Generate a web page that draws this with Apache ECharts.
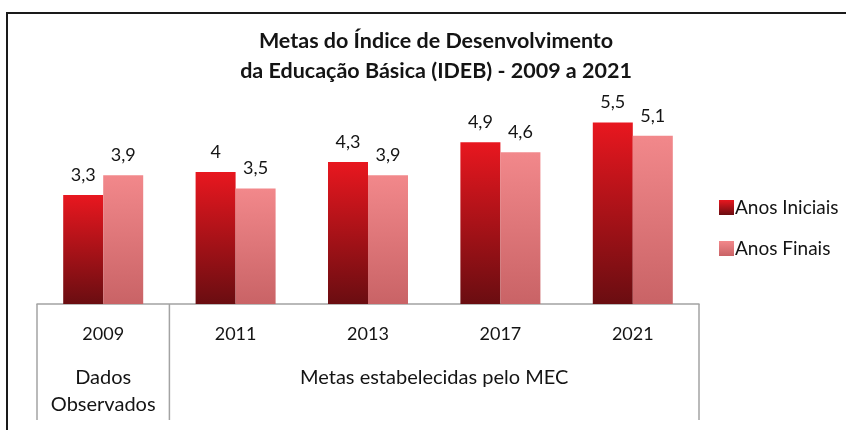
<!DOCTYPE html>
<html>
<head>
<meta charset="utf-8">
<script src="https://cdn.jsdelivr.net/npm/echarts@6/dist/echarts.min.js"></script>
<style>
  html, body { margin: 0; padding: 0; background: #fff; overflow: hidden; }
  #frame { position: absolute; left: 6px; top: 12px; width: 900px; height: 500px; border: 2px solid #1a1a1a; box-sizing: border-box; }
  #chart { position: absolute; left: 0; top: 0; width: 846px; height: 430px; }
</style>
</head>
<body>
<div id="frame"></div>
<div id="chart"></div>
<script>
const titleLines = ['Metas do Índice de Desenvolvimento', 'da Educação Básica (IDEB) - 2009 a 2021'];
const categories = ['2009', '2011', '2013', '2017', '2021'];
const anosIniciais = [3.3, 4, 4.3, 4.9, 5.5];
const anosFinais = [3.9, 3.5, 3.9, 4.6, 5.1];
const seriesNames = ['Anos Iniciais', 'Anos Finais'];
const groupLabels = ['Dados\nObservados', 'Metas estabelecidas pelo MEC'];
const groupFrom = [0, 1];
const groupTo = [0, 4];

const FONT = 'Lato';
const TEXT = '#141414';
const LINE = '#a3a3a3';

function grad(top, bottom) {
  return new echarts.graphic.LinearGradient(0, 0, 0, 1, [
    { offset: 0, color: top },
    { offset: 1, color: bottom }
  ]);
}
const fmt = p => String(p.value).replace('.', ',');

const chart = echarts.init(document.getElementById('chart'), null, { renderer: 'canvas' });
chart.setOption({
  animation: false,
  backgroundColor: 'transparent',
  title: {
    text: titleLines.join('\n'),
    left: 431,
    top: 21,
    textAlign: 'center',
    textStyle: { fontFamily: FONT, fontSize: 21.5, fontWeight: 'bold', color: TEXT, lineHeight: 30 }
  },
  legend: {
    orient: 'vertical',
    left: 714,
    top: 193,
    itemWidth: 15,
    itemHeight: 15,
    itemGap: 22,
    icon: 'rect',
    data: seriesNames,
    textStyle: { fontFamily: FONT, fontSize: 19, color: TEXT, padding: [0, 0, 0, -4] }
  },
  grid: { left: 37, right: 147, top: 106, bottom: 126 },
  xAxis: {
    type: 'category',
    data: categories,
    axisLine: { lineStyle: { color: LINE, width: 1.5 } },
    axisTick: { show: false },
    axisLabel: { margin: 21, fontFamily: FONT, fontSize: 18, color: TEXT }
  },
  yAxis: { type: 'value', min: 0, max: 6, show: false, splitLine: { show: false } },
  series: [
    {
      name: seriesNames[0], type: 'bar', data: anosIniciais, barWidth: 40, barGap: '0%',
      itemStyle: { color: grad('#e8171f', '#6a0d11') },
      label: { show: true, position: 'top', distance: 11, formatter: fmt, fontFamily: FONT, fontSize: 18, color: TEXT }
    },
    {
      name: seriesNames[1], type: 'bar', data: anosFinais, barWidth: 40, barGap: '0%',
      itemStyle: { color: grad('#f2888b', '#c96366') },
      label: { show: true, position: 'top', distance: 11, formatter: fmt, fontFamily: FONT, fontSize: 18, color: TEXT }
    }
  ]
});

// Table lines and group labels, placed from the axis scale
const c0 = chart.convertToPixel({ xAxisIndex: 0 }, categories[0]);
const c1 = chart.convertToPixel({ xAxisIndex: 0 }, categories[1]);
const band = c1 - c0;
const baseY = chart.convertToPixel({ yAxisIndex: 0 }, 0);
const tableBottom = baseY + 116;
const boundary = i => c0 + (i - 0.5) * band;
const graphics = [];
const lineIdx = new Set();
groupFrom.forEach((f, g) => { lineIdx.add(f); lineIdx.add(groupTo[g] + 1); });
lineIdx.forEach(i => {
  graphics.push({
    type: 'line', silent: true,
    shape: { x1: boundary(i), y1: baseY, x2: boundary(i), y2: tableBottom },
    style: { stroke: LINE, lineWidth: 1.5 }
  });
});
groupLabels.forEach((t, g) => {
  const cx = (boundary(groupFrom[g]) + boundary(groupTo[g] + 1)) / 2;
  graphics.push({
    type: 'text', silent: true, x: cx, y: baseY + 60,
    style: { text: t, fill: TEXT, font: '20px ' + FONT, align: 'center', verticalAlign: 'top', lineHeight: 27 }
  });
});
chart.setOption({ graphic: graphics });
</script>
</body>
</html>
